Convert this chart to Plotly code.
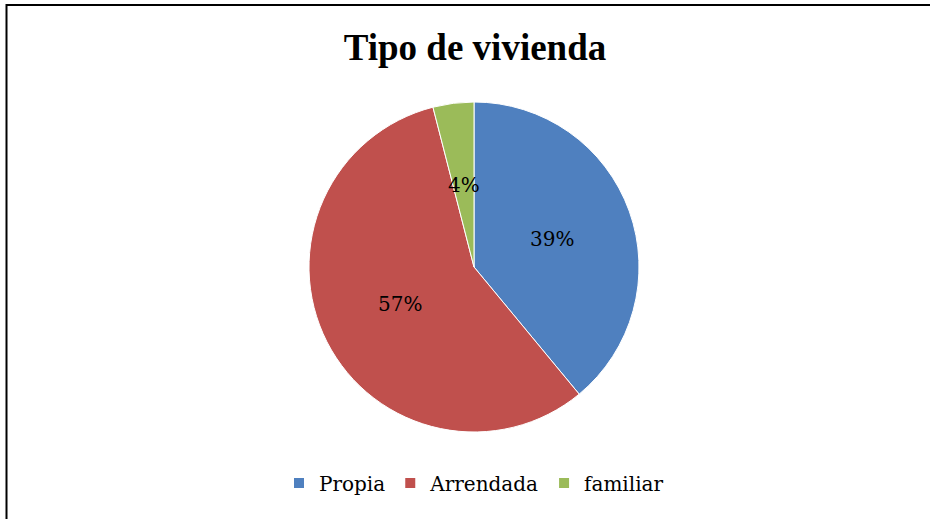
import math
import plotly.graph_objects as go

labels = ["Propia", "Arrendada", "familiar"]
values = [39, 57, 4]
colors = ["#4F80BF", "#C0504D", "#9BBB59"]

W, H = 930, 519
CX, CY, R = 474, 267, 165

fig = go.Figure()
fig.add_trace(go.Pie(
    labels=labels, values=values, sort=False, direction="clockwise", rotation=0,
    marker=dict(colors=colors, line=dict(color="white", width=1)),
    textinfo="none",
    domain=dict(x=[(CX - R) / W, (CX + R) / W], y=[1 - (CY + R) / H, 1 - (CY - R) / H]),
    hoverinfo="label+percent",
))

# percentage labels placed at half radius along each slice's mid angle
total = sum(values)
annotations = []
start = 0.0
for v in values:
    mid = (start + v / 2) / total * 2 * math.pi
    start += v
    px = CX + 0.5 * R * math.sin(mid)
    py = CY - 0.5 * R * math.cos(mid)
    annotations.append(dict(
        x=px / W, y=1 - py / H, xref="paper", yref="paper",
        text=f"{round(v / total * 100)}%", showarrow=False,
        font=dict(family="DejaVu Serif", size=20, color="black"),
        xanchor="center", yanchor="middle",
    ))

fig.update_layout(
    width=W, height=H,
    margin=dict(l=0, r=0, t=0, b=0),
    paper_bgcolor="white", plot_bgcolor="white",
    title=dict(text="<b>Tipo de vivienda</b>", x=475 / W, xanchor="center",
               y=1 - 47 / H, yanchor="middle",
               font=dict(family="Liberation Serif", size=37, color="black")),
    legend=dict(orientation="h", x=474 / W, xanchor="center", y=1 - 483 / H, yanchor="middle",
                font=dict(family="DejaVu Serif", size=20, color="black"),
                itemsizing="constant", itemwidth=30, tracegroupgap=0),
    annotations=annotations,
    shapes=[dict(type="rect", xref="paper", yref="paper", x0=6.5 / W, x1=1.1, y0=-0.1, y1=1 - 5 / H,
                 line=dict(color="black", width=2), fillcolor="rgba(0,0,0,0)")],
)
fig.write_html("out.html", config={"displayModeBar": False},
               post_script="document.body.style.margin='0';")
